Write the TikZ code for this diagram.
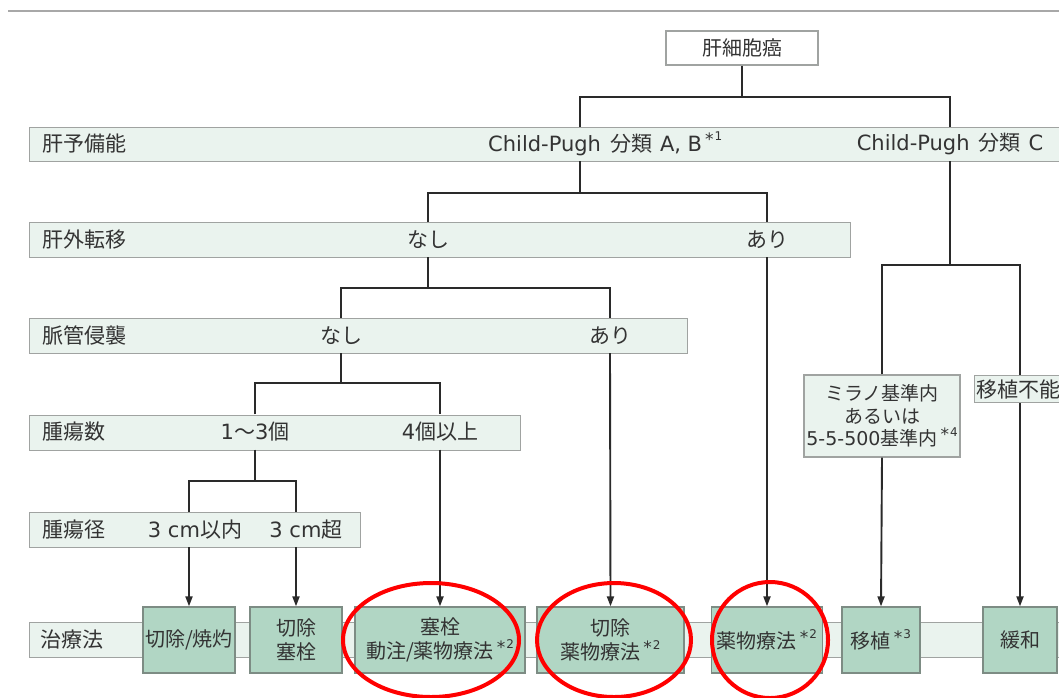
\documentclass[tikz,border=0pt]{standalone}
\usepackage{fontspec}
\setmainfont{Noto Sans CJK JP}
\newfontfamily\lat{DejaVu Sans}
\usetikzlibrary{arrows.meta,calc}
\definecolor{bandfill}{HTML}{EAF3EE}
\definecolor{bandline}{HTML}{A0A3A1}
\definecolor{boxfill}{HTML}{B1D6C4}
\definecolor{boxline}{HTML}{7D8C84}
\definecolor{txt}{HTML}{333333}
\definecolor{connc}{HTML}{2A2A2A}
\definecolor{topline}{HTML}{A8A8A8}
\newcommand\nt[1]{\hspace{3pt}\raisebox{0.28em}{\lat\fontsize{17}{17}\selectfont *}\hspace{1pt}\raisebox{0.5em}{\lat\fontsize{12}{12}\selectfont #1}}
\begin{document}
\begin{tikzpicture}[x=1pt,y=-1pt,
  font=\fontsize{21}{24}\selectfont, text=txt,
  band/.style={draw=bandline, fill=bandfill, line width=1.3pt, anchor=north west, inner sep=0},
  lab/.style={anchor=west, inner sep=0},
  val/.style={inner sep=0, minimum height=34pt},
  tbox/.style={draw=boxline, fill=boxfill, line width=1.3pt, minimum height=66pt, align=center, inner sep=0, font=\fontsize{20}{24}\selectfont},
  conn/.style={draw=connc, line width=1.9pt},
  arr/.style={conn, -{Triangle[length=10pt,width=7pt]}},
  ring/.style={draw=red, line width=4pt}
]
\useasboundingbox (0,0) rectangle (1059,697);
\clip (0,0) rectangle (1059,697);
\fill[white] (0,0) rectangle (1059,697);
\draw[topline, line width=2.5pt] (8,11) -- (1059,11);

% bands
\node[band, minimum width=1040pt, minimum height=34pt] (b1) at (29,127) {};
\node[band, minimum width=821pt, minimum height=35pt] (b2) at (29,222) {};
\node[band, minimum width=658pt, minimum height=35pt] (b3) at (29,318) {};
\node[band, minimum width=491pt, minimum height=35pt] (b4) at (29,414.5) {};
\node[band, minimum width=331pt, minimum height=35pt] (b5) at (29,512) {};
\node[band, minimum width=1040pt, minimum height=35pt] (b6) at (29,622) {};

% row labels
\node[lab] (l1) at (42,144) {肝予備能};
\node[lab] (l2) at (42,239.5) {肝外転移};
\node[lab] (l3) at (42,335.5) {脈管侵襲};
\node[lab] (l4) at (42,432) {腫瘍数};
\node[lab] (l5) at (42,529.5) {腫瘍径};
\node[lab] (l6) at (40,639.5) {治療法};

% root
\node[draw=bandline, fill=white, line width=1.3pt, minimum width=152pt, minimum height=34pt, inner sep=0, font=\fontsize{20}{24}\selectfont] (root) at (742,48) {肝細胞癌};

% values
\node[val, anchor=west] (cAB) at (488,144) {{\lat Child-Pugh}\hspace{9pt}分類\hspace{8pt}{\lat A, B}\nt{1}};
\node[val] (cC) at (950,144) {{\lat Child-Pugh}\hspace{9pt}分類\hspace{8pt}{\lat C}};
\node[val, minimum height=35pt] (nashi1) at (428,239.5) {なし};
\node[val, minimum height=35pt] (ari1) at (767,239.5) {あり};
\node[val, minimum height=35pt] (nashi2) at (341,335.5) {なし};
\node[val, minimum height=35pt] (ari2) at (610,335.5) {あり};
\node[val, minimum height=35pt] (n13) at (255,432) {{\lat 1}〜{\lat 3}個};
\node[val, minimum height=35pt] (n4) at (440,432) {{\lat 4}個以上};
\node[val, minimum height=35pt] (d3in) at (195,529.5) {{\lat 3 cm}以内};
\node[val, minimum height=35pt] (d3out) at (306,529.5) {{\lat 3 cm}超};

% right side boxes
\node[draw=bandline, fill=bandfill, line width=1.3pt, minimum width=156pt, minimum height=82pt, align=center, inner sep=0, font=\fontsize{19}{22.5}\selectfont] (milan) at (882,416) {ミラノ基準内\\あるいは\\{\lat 5-5-500}基準内\nt{4}};
\node[draw=bandline, fill=bandfill, line width=1.3pt, anchor=north west, minimum height=27pt, text width=100pt, align=left, inner xsep=2pt, inner ysep=0] (notx) at (974,375) {移植不能};

% treatment boxes
\node[tbox, minimum width=92pt] (t1) at (189,640) {切除/焼灼};
\node[tbox, minimum width=92pt] (t2) at (296,640) {切除\\塞栓};
\node[tbox, minimum width=170pt] (t3) at (440,640) {塞栓\\動注/薬物療法\nt{2}};
\node[tbox, minimum width=147pt] (t4) at (610.5,640) {切除\\薬物療法\nt{2}};
\node[tbox, minimum width=111pt] (t5) at (767,640) {薬物療法\nt{2}};
\node[tbox, minimum width=78pt] (t6) at (881,640) {移植\nt{3}};
\node[tbox, minimum width=74pt] (t7) at (1020,640) {緩和};

% junctions
\coordinate (j0) at (742,97);
\coordinate (j1) at (580,193);
\coordinate (j2) at (428,288);
\coordinate (j3) at (341,383);
\coordinate (j4) at (255,481);
\coordinate (j5) at (950,265);

% connectors
\draw[conn] (root.south) -- (j0);
\draw[conn] (j1 |- cAB.north) |- (j0) -| (cC.north);
\draw[conn] (j1 |- cAB.south) -- (j1);
\draw[conn] (nashi1.north) |- (j1) -| (ari1.north);
\draw[conn] (nashi1.south) -- (j2);
\draw[conn] (nashi2.north) |- (j2) -| (ari2.north);
\draw[arr] (ari1.south) -- (t5.north);
\draw[arr] (ari2.south) -- (t4.north);
\draw[conn] (nashi2.south) -- (j3);
\draw[conn] (n13.north) |- (j3) -| (n4.north);
\draw[arr] (n4.south) -- (t3.north);
\draw[conn] (n13.south) -- (j4);
\draw[conn] (t1.north |- d3in.north) |- (j4) -| (t2.north |- d3out.north);
\draw[arr] (t1.north |- d3in.south) -- (t1.north);
\draw[arr] (t2.north |- d3out.south) -- (t2.north);
\draw[conn] (cC.south) -- (j5);
\draw[conn] (milan.north) |- (j5) -| (t7.north |- notx.north);
\draw[arr] (milan.south) -- (t6.north);
\draw[arr] (t7.north |- notx.south) -- (t7.north);

% red rings
\draw[ring] (431,640) ellipse [x radius=88pt, y radius=57pt];
\draw[ring] (614,640) ellipse [x radius=77pt, y radius=57pt];
\draw[ring] (770,640) ellipse [x radius=58pt, y radius=58pt];
\end{tikzpicture}
\end{document}
